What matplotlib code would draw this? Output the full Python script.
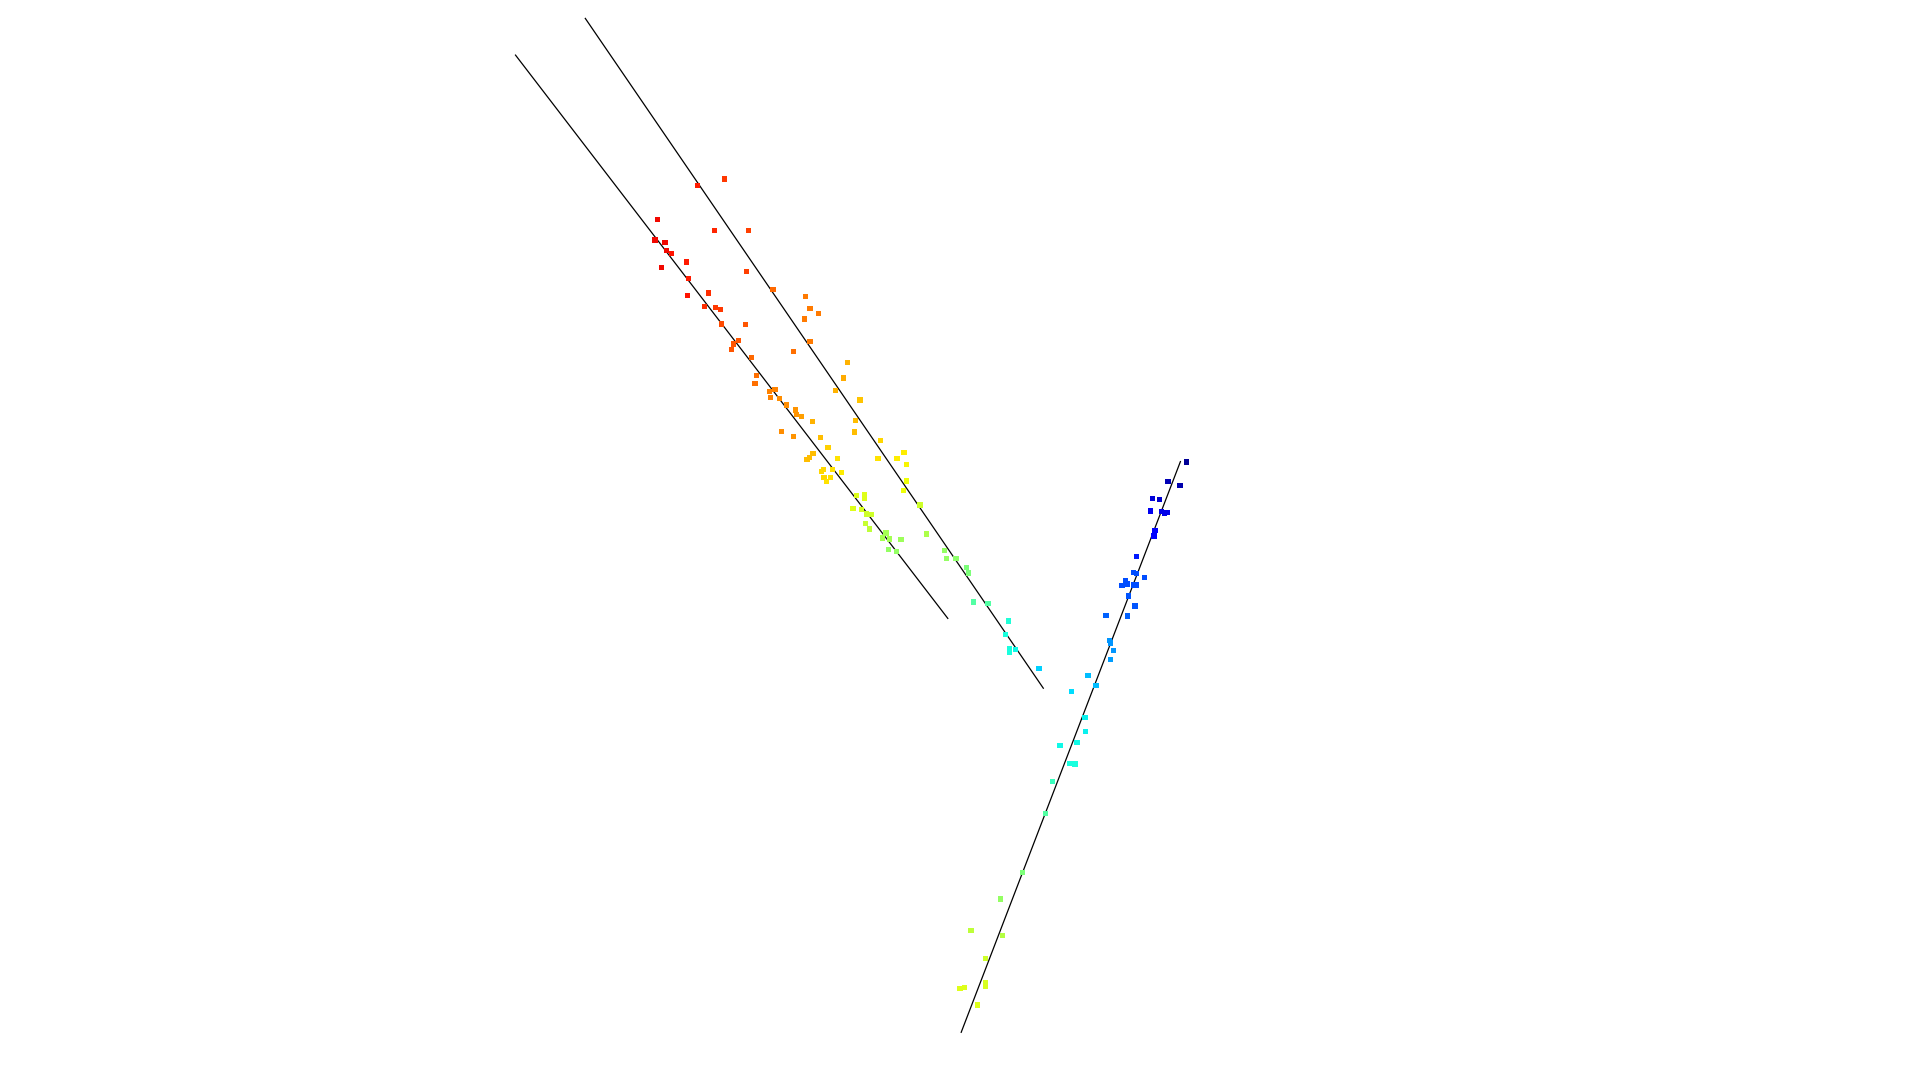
import numpy as np
import matplotlib.pyplot as plt

# ---- data (pixel-like units, y grows downward) ----
# left cluster: points around the two parallel descending lines
left_x = [724.3, 697.3, 657.7, 714.3, 748.7, 655.0, 665.0, 666.7, 671.3, 661.7,
          686.3, 688.7, 746.7, 687.7, 708.7, 773.0, 704.3, 715.7, 720.7, 805.3,
          810.0, 818.3, 804.3, 721.3, 745.3, 810.0, 738.3, 733.3, 731.3, 793.3,
          751.3, 847.3, 843.3, 756.7, 755.0, 769.7, 775.0, 835.7, 770.7, 779.3,
          860.0, 786.3, 795.7, 796.3, 801.7, 812.3, 855.7, 854.7, 781.7, 793.3,
          820.3, 880.3, 828.0, 813.0, 809.3, 807.0, 837.3, 878.0, 897.0, 904.0,
          906.7, 821.3, 823.7, 832.3, 841.7, 824.0, 830.3, 826.3, 906.3, 903.3,
          856.3, 864.3, 864.3, 920.0, 853.0, 861.7, 866.7, 871.3, 865.7, 869.7,
          886.0, 926.3, 882.7, 889.7, 901.0, 888.3, 896.3, 944.7, 946.3, 956.0,
          966.3, 968.3, 973.3, 988.0, 1008.7, 1005.7, 1009.3, 1009.3, 1015.3, 1039.0]
left_y = [179.0, 185.3, 219.7, 230.3, 230.7, 240.0, 242.3, 250.7, 253.3, 267.3,
          262.0, 278.7, 271.7, 295.3, 293.0, 289.3, 306.3, 307.3, 309.3, 296.3,
          308.7, 313.3, 319.0, 324.0, 324.3, 341.3, 340.3, 344.0, 349.3, 351.3,
          357.3, 362.3, 378.0, 375.7, 383.7, 391.3, 389.7, 390.7, 397.7, 398.7,
          400.0, 405.0, 410.0, 414.3, 416.3, 421.3, 420.7, 432.0, 431.7, 436.3,
          437.3, 440.3, 447.3, 453.7, 457.3, 459.3, 458.7, 458.3, 458.3, 452.3,
          464.3, 471.3, 469.3, 469.3, 472.3, 477.3, 477.3, 481.3, 481.0, 490.7,
          495.3, 494.3, 498.7, 505.0, 508.3, 509.3, 514.0, 514.3, 523.3, 529.0,
          533.0, 534.0, 538.0, 539.0, 539.7, 549.3, 551.3, 550.3, 558.3, 558.3,
          567.3, 573.0, 602.0, 603.7, 621.0, 634.3, 648.3, 652.0, 649.3, 668.7]
left_c = [0.85, 0.88, 0.90, 0.87, 0.84, 0.90, 0.90, 0.90, 0.89, 0.90,
          0.88, 0.88, 0.84, 0.89, 0.86, 0.80, 0.86, 0.85, 0.85, 0.78,
          0.78, 0.78, 0.78, 0.83, 0.82, 0.78, 0.82, 0.82, 0.82, 0.79,
          0.80, 0.72, 0.73, 0.79, 0.79, 0.77, 0.77, 0.72, 0.77, 0.76,
          0.70, 0.76, 0.75, 0.75, 0.74, 0.72, 0.71, 0.71, 0.76, 0.75,
          0.71, 0.68, 0.69, 0.71, 0.71, 0.71, 0.67, 0.67, 0.66, 0.66,
          0.65, 0.68, 0.68, 0.67, 0.66, 0.68, 0.67, 0.67, 0.64, 0.64,
          0.62, 0.62, 0.62, 0.60, 0.62, 0.61, 0.60, 0.60, 0.59, 0.58,
          0.55, 0.56, 0.55, 0.55, 0.54, 0.53, 0.53, 0.53, 0.53, 0.52,
          0.50, 0.50, 0.45, 0.45, 0.39, 0.38, 0.38, 0.38, 0.37, 0.33]

# right cluster: points around the rising line
right_x = [1186.3, 1167.3, 1168.3, 1180.0, 1152.3, 1159.7, 1150.3, 1161.3, 1164.7, 1167.0,
           1155.0, 1154.0, 1136.3, 1133.7, 1136.7, 1144.3, 1125.7, 1122.0, 1127.0, 1134.0,
           1136.3, 1128.3, 1135.0, 1106.0, 1127.3, 1109.3, 1110.7, 1113.3, 1110.3, 1088.0,
           1096.0, 1071.3, 1085.0, 1085.3, 1077.0, 1060.0, 1070.0, 1075.0, 1052.3, 1045.7,
           1022.7, 1000.3, 971.0, 1002.7, 985.3, 985.3, 985.7, 960.0, 964.7, 977.7]
right_y = [462.0, 481.7, 481.3, 485.7, 498.7, 499.7, 511.0, 511.7, 513.7, 512.3,
           530.7, 536.0, 556.3, 572.3, 573.3, 577.3, 580.7, 585.3, 584.0, 585.0,
           585.0, 596.0, 606.0, 615.3, 616.0, 640.3, 643.0, 650.3, 659.3, 675.3,
           685.7, 691.7, 717.3, 731.7, 742.7, 745.3, 763.7, 764.0, 781.3, 813.3,
           872.7, 899.0, 930.3, 935.3, 958.3, 982.7, 986.0, 988.7, 987.3, 1005.0]
right_c = [0.02, 0.05, 0.05, 0.04, 0.08, 0.07, 0.10, 0.09, 0.09, 0.09,
           0.12, 0.12, 0.15, 0.20, 0.20, 0.20, 0.20, 0.20, 0.20, 0.20,
           0.20, 0.21, 0.21, 0.22, 0.22, 0.27, 0.27, 0.27, 0.28, 0.31,
           0.31, 0.34, 0.36, 0.36, 0.37, 0.37, 0.38, 0.38, 0.42, 0.45,
           0.50, 0.53, 0.58, 0.57, 0.60, 0.61, 0.61, 0.62, 0.62, 0.62]

# fitted lines (start / end points)
line_x0 = [515.5, 585.3, 961.2]
line_y0 = [55.1, 18.4, 1032.3]
line_x1 = [947.8, 1043.3, 1180.4]
line_y1 = [618.4, 688.2, 461.6]

# ---- plot ----
fig = plt.figure(figsize=(19.2, 10.8), dpi=100)
ax = fig.add_axes([0, 0, 1, 1])

for x0, y0, x1, y1 in zip(line_x0, line_y0, line_x1, line_y1):
    ax.plot([x0, x1], [y0, y1], color='black', linewidth=0.9, zorder=1)

all_x = np.array(left_x + right_x)
all_y = np.array(left_y + right_y)
all_c = np.array(left_c + right_c)
ax.scatter(all_x, all_y, c=all_c, cmap='jet', vmin=0, vmax=1,
           marker='s', s=16, linewidths=0, zorder=2)

ax.set_xlim(0, 1920)
ax.set_ylim(1080, 0)
ax.axis('off')

plt.savefig('out.png', dpi=100)
